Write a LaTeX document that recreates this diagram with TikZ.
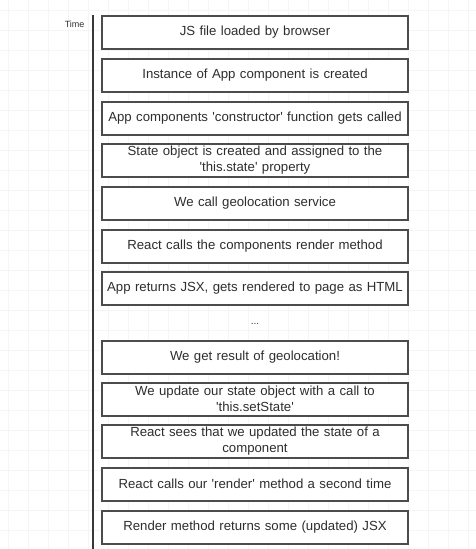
\documentclass[tikz,border=0pt]{standalone}
\usepackage{fontspec}
\setmainfont{Liberation Sans}
\begin{document}
\begin{tikzpicture}[x=1pt,y=-1pt,
  box/.style={draw=black!70, line width=2pt, fill=white, minimum width=306pt, minimum height=33pt,
    text width=306pt, align=center, inner sep=0pt, font=\fontsize{13.2}{16}\selectfont, text=black!82},
  gridline/.style={draw=black!4, line width=0.4pt}]
\useasboundingbox (0,0) rectangle (476,549);
\fill[white] (0,0) rectangle (476,549);
\foreach \gx in {8,28,...,476} {\draw[gridline] (\gx,0) -- (\gx,549);}
\foreach \gy in {10,30,...,549} {\draw[gridline] (0,\gy) -- (476,\gy);}
\coordinate (t0) at (93,15);
\coordinate (t1) at (93,549);
\draw[black!78, line width=1.6pt] (t0) -- (t1);
\node[font=\fontsize{9}{10}\selectfont, text=black!80, anchor=east] (time) at (88,24) {Time};
\node[box] (b1) at (255,32) {JS file loaded by browser};
\node[box] (b2) at (255,75) {Instance of App component is created};
\node[box] (b3) at (255,118) {App components \textquotesingle constructor\textquotesingle\ function gets called};
\node[box] (b4) at (255,160) {State object is created and assigned to the\\\textquotesingle this.state\textquotesingle\ property};
\node[box] (b5) at (255,203) {We call geolocation service};
\node[box] (b6) at (255,246) {React calls the components render method};
\node[box] (b7) at (255,288) {App returns JSX, gets rendered to page as HTML};
\node[font=\fontsize{10}{11}\selectfont, text=black!80] (dots) at (255,324) {...};
\node[box] (b8) at (255,357) {We get result of geolocation!};
\node[box] (b9) at (255,399) {We update our state object with a call to\\\textquotesingle this.setState\textquotesingle};
\node[box] (b10) at (255,441.5) {React sees that we updated the state of a\\component};
\node[box] (b11) at (255,484) {React calls our \textquotesingle render\textquotesingle\ method a second time};
\node[box] (b12) at (255,527) {Render method returns some (updated) JSX};
\end{tikzpicture}
\end{document}
